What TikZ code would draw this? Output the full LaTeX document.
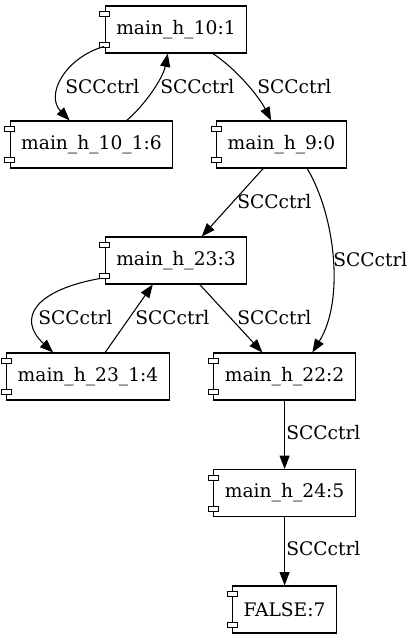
\documentclass[tikz,border=0pt]{standalone}
\usepackage{fontspec}
\setmainfont{DejaVu Serif}
\usetikzlibrary{arrows.meta, calc}

\begin{document}
\begin{tikzpicture}[
    x=0.75pt, y=-0.75pt,
    comp/.style={draw, line width=0.8pt, fill=white, minimum height=35.25pt, inner xsep=8.25pt, font=\fontsize{14}{16}\selectfont},
    tab/.style={draw, line width=0.6pt, fill=white},
    lbl/.style={anchor=west, inner sep=0pt, font=\fontsize{14}{16}\selectfont},
    arrow/.style={-{Triangle[length=10pt, width=7.5pt]}, line width=0.8pt}
]
\useasboundingbox (0,0) rectangle (415,639);

\node[comp] (h10) at (176,29.5) {main\_h\_10:1};
\node[comp] (h101) at (91.5,144.5) {main\_h\_10\_1:6};
\node[comp] (h9) at (281.5,144.5) {main\_h\_9:0};
\node[comp] (h23) at (176,260.5) {main\_h\_23:3};
\node[comp] (h231) at (88,376.5) {main\_h\_23\_1:4};
\node[comp] (h22) at (284.6,376.5) {main\_h\_22:2};
\node[comp] (h24) at (284.6,493) {main\_h\_24:5};
\node[comp] (false) at (284.6,609.5) {FALSE:7};

% small tabs on the left side
\foreach \n in {h10,h101,h9,h23,h231,h22,h24,false} {
  \draw[tab] ($(\n.north west)+(-5,6)$) rectangle ++(10,5);
  \draw[tab] ($(\n.south west)+(-5,-11)$) rectangle ++(10,5);
}

\draw[arrow] ($(h10.south west)+(-1,-7)$) .. controls (65,58) and (45,95) .. ($(h101.north west)+(60,0)$);
\draw[arrow] ($(h101.north west)+(117,0)$) .. controls (145,105) and (163,78) .. ($(h10.south west)+(63,0)$);
\draw[arrow] ($(h10.south west)+(108,0)$) .. controls (235,68) and (258,95) .. ($(h9.north west)+(55,0)$);
\draw[arrow] ($(h9.south west)+(47,0)$) -- ($(h23.north west)+(97,0)$);
\draw[arrow] ($(h9.south west)+(91,0)$) .. controls (335,215) and (345,300) .. ($(h22.north west)+(99,0)$);
\draw[arrow] ($(h23.south west)+(-5,-6)$) .. controls (36,290) and (16,318) .. ($(h231.north west)+(47,0)$);
\draw[arrow] ($(h231.north west)+(99,0)$) -- ($(h23.south west)+(48,0)$);
\draw[arrow] ($(h23.south west)+(95,0)$) -- ($(h22.north west)+(49,0)$);
\draw[arrow] (h22.south) -- (h24.north);
\draw[arrow] (h24.south) -- (false.north);

\node[lbl] (l1) at (65,87) {SCCctrl};
\node[lbl] (l2) at (160,87) {SCCctrl};
\node[lbl] (l3) at (257,87) {SCCctrl};
\node[lbl] (l4) at (237,202) {SCCctrl};
\node[lbl] (l5) at (333,260) {SCCctrl};
\node[lbl] (l6) at (38,318) {SCCctrl};
\node[lbl] (l7) at (135,318) {SCCctrl};
\node[lbl] (l8) at (237,318) {SCCctrl};
\node[lbl] (l9) at (286,433) {SCCctrl};
\node[lbl] (l10) at (286,549) {SCCctrl};

\end{tikzpicture}
\end{document}
